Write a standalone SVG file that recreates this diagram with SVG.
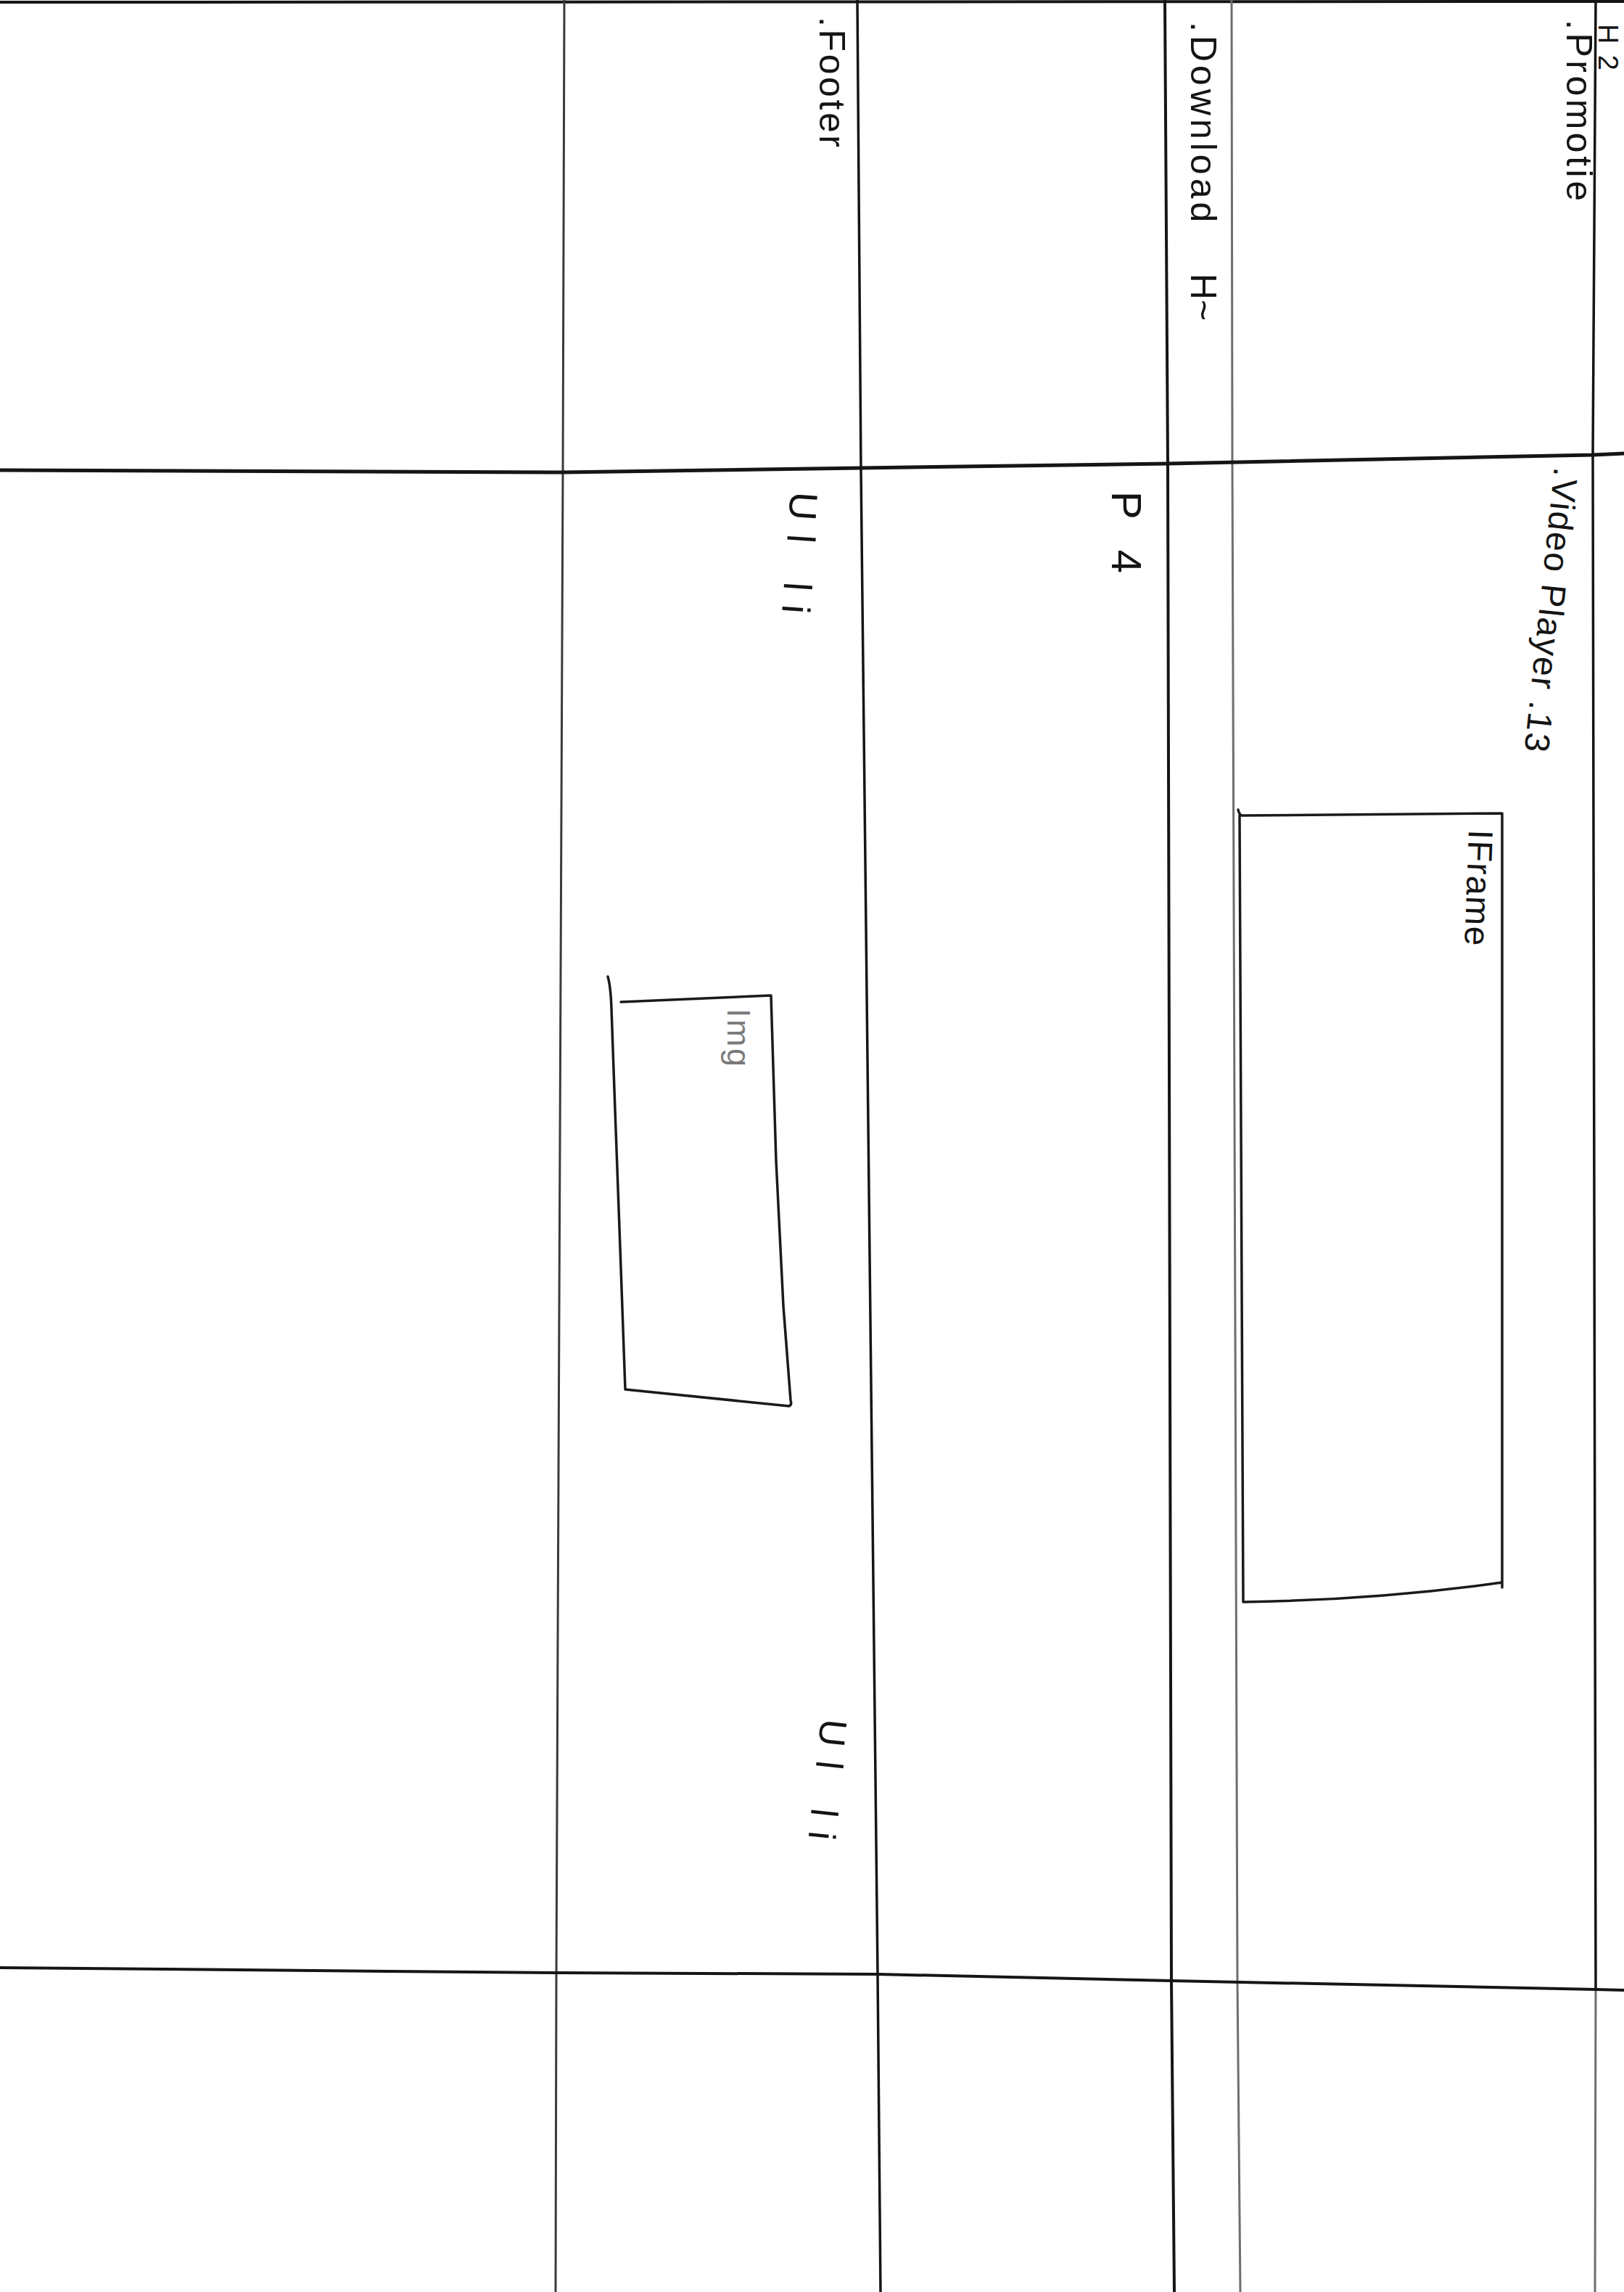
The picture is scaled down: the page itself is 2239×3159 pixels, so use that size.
<svg xmlns="http://www.w3.org/2000/svg" width="2239" height="3159" viewBox="0 0 2239 3159">
<style>
.ln{fill:none;stroke-linecap:round;stroke-linejoin:round}
.dark{stroke:#151515}
.gray{stroke:#6e6e6e}
.box{fill:none;stroke:#1a1a1a;stroke-width:3.5;stroke-linecap:round;stroke-linejoin:round}
.t{font-family:"Liberation Sans",Arial,sans-serif;fill:#141414}
.tg{font-family:"Liberation Sans",Arial,sans-serif;fill:#7a7a7a}
</style>
<rect x="0" y="0" width="2239" height="3159" fill="#ffffff"/>
<g id="grid">
<path class="ln dark" stroke-width="4" d="M0,3 L2239,2"/>
<path class="ln" stroke="#3a3a3a" stroke-width="3" d="M778,0 L776,650 L767,2720 L766,3159"/>
<path class="ln dark" stroke-width="3.5" d="M1182,0 L1187,648 L1210,2721 L1214,3159"/>
<path class="ln dark" stroke-width="4" d="M1606,0 L1610,640 L1615,2730 L1619,3159"/>
<path class="ln gray" stroke-width="3" d="M1698,0 L1699,640 L1706,2732 L1710,3159"/>
<path class="ln dark" stroke-width="3.5" d="M2200,0 L2196,628 L2200,2742"/>
<path class="ln gray" stroke-width="3" d="M2200,2742 L2199,3159"/>
<path class="ln dark" stroke-width="5" d="M0,648 L776,651 L1187,645 L1610,639 L2196,627 L2239,625"/>
<path class="ln dark" stroke-width="4" d="M0,2712 L767,2719 L1210,2721 L1615,2730 L2200,2742 L2239,2743"/>
</g>
<g id="iframe-box">
<path class="box" d="M1707,1116 Q1708,1122 1712,1124 L2071,1121 L2071,2188 M2071,2181 Q1900,2205 1714,2208 L1709,1124"/>
<text class="t" transform="translate(2025,1143) rotate(92)" font-size="48" textLength="160" lengthAdjust="spacing">IFrame</text>
</g>
<g id="img-box">
<path class="box" d="M838,1346 Q842,1360 843,1390 L848,1530 L855,1720 L862,1915 L1088,1938 Q1092,1936 1090,1930 L1080,1800 L1070,1600 L1063,1372 L856,1381"/>
<text class="tg" transform="translate(1003,1390) rotate(90)" font-size="45" textLength="80" lengthAdjust="spacing">Img</text>
</g>
<g id="label-h2">
<text class="t" transform="translate(2204,33) rotate(90)" font-size="38" textLength="64" lengthAdjust="spacing">H2</text>
</g>
<g id="label-promotie">
<text class="t" transform="translate(2160,27) rotate(90)" font-size="50" textLength="250" lengthAdjust="spacing">.Promotie</text>
</g>
<g id="label-download">
<text class="t" transform="translate(1642,30) rotate(90)" font-size="50"><tspan x="0" y="0" letter-spacing="5">.Download</tspan><tspan x="347" y="0">H~</tspan></text>
</g>
<g id="label-footer">
<text class="t" transform="translate(1130,23) rotate(90)" font-size="50" textLength="180" lengthAdjust="spacing">.Footer</text>
</g>
<g id="label-video">
<text class="t" transform="translate(2143,643) rotate(96)" font-size="48" textLength="394" lengthAdjust="spacing">.Video Player .13</text>
</g>
<g id="label-p">
<text class="t" transform="translate(1533,677) rotate(90)" font-size="58" textLength="113" lengthAdjust="spacing">P 4</text>
</g>
<g id="label-ul1">
<text class="t" transform="translate(1090,677) rotate(94)" font-size="54" textLength="168" lengthAdjust="spacing">Ul li</text>
</g>
<g id="label-ul2">
<text class="t" transform="translate(1132,2368) rotate(96)" font-size="52" textLength="167" lengthAdjust="spacing">Ul li</text>
</g>
</svg>
